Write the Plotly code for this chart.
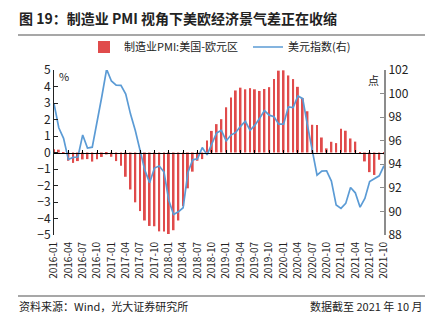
import plotly.graph_objects as go

months = [f"{y}-{m:02d}" for y in range(2016, 2022) for m in range(1, 13)][:70]

pmi_diff = [0.20, 0.17, -0.05, -0.50, -0.63, -0.52, -0.42, -0.40, -0.55, -0.41,
            -0.27, -0.12, -0.26, -0.52, -0.81, -1.47, -2.24, -3.02, -3.55, -4.12,
            -4.45, -4.47, -4.78, -4.79, -4.94, -4.71, -4.12, -3.25, -2.17, -1.16,
            -0.50, -0.40, 0.72, 1.31, 1.72, 2.02, 2.74, 3.34, 3.76, 3.93,
            3.83, 3.90, 3.83, 3.73, 3.85, 3.96, 4.45, 4.96, 4.98, 4.67,
            4.45, 3.98, 3.30, 2.50, 1.68, 1.67, 0.91, 0.25, 0.65, 0.57,
            1.44, 1.32, 0.85, 0.66, 0.03, -0.54, -1.19, -1.36, -0.44, -0.10]

dxy = [99.15, 97.10, 96.20, 94.41, 94.58, 94.62, 96.49, 95.37, 95.45, 97.45,
       99.75, 102.06, 101.07, 100.72, 100.70, 99.95, 98.26, 96.86, 95.03, 93.48,
       92.44, 93.68, 93.85, 93.34, 90.95, 89.74, 89.97, 90.31, 93.30, 94.38,
       94.47, 95.42, 94.80, 95.73, 96.66, 96.88, 95.98, 96.48, 96.70, 97.22,
       97.65, 96.88, 97.32, 97.90, 98.56, 98.17, 98.03, 97.40, 97.40, 98.87,
       98.82, 99.80, 99.57, 97.30, 95.10, 93.08, 93.42, 93.45, 92.58, 90.54,
       90.26, 90.68, 92.03, 91.58, 90.36, 91.10, 92.53, 92.80, 93.02, 93.88]

left_ticks = [-5, -4, -3, -2, -1, 0, 1, 2, 3, 4, 5]
right_ticks = [88, 90, 92, 94, 96, 98, 100, 102]

FONT = "Noto Sans CJK SC"
L, R, T, B = 54, 384, 70, 235
W, H = 433, 324


def px(x):
    return (x - L) / (R - L)


def py(y):
    return (B - y) / (B - T)


fig = go.Figure()
fig.add_trace(go.Bar(
    x=months, y=pmi_diff, name="制造业PMI:美国-欧元区",
    marker=dict(color="#E04B4B", line=dict(width=0)),
    xaxis="x", yaxis="y", legend="legend",
))
fig.add_trace(go.Scatter(
    x=months, y=dxy, name="美元指数(右)", mode="lines",
    line=dict(color="#5B9BD5", width=1.7),
    xaxis="x", yaxis="y2", legend="legend2",
))
# carrier for the category axis drawn along the zero line
fig.add_trace(go.Scatter(
    x=months, y=pmi_diff, mode="lines", line=dict(width=0, color="rgba(0,0,0,0)"),
    xaxis="x2", yaxis="y", showlegend=False, hoverinfo="skip",
))

legend_common = dict(orientation="h", xanchor="left", yanchor="middle",
                     font=dict(size=11, color="#222"), bgcolor="rgba(0,0,0,0)",
                     itemwidth=30)

fig.update_layout(
    width=W, height=H,
    margin=dict(l=L, r=W - R, t=T, b=H - B),
    paper_bgcolor="white", plot_bgcolor="white",
    font=dict(family=FONT, size=11, color="#222"),
    bargap=0.6,
    showlegend=True,
    legend=dict(x=px(84), y=py(47), **legend_common),
    legend2=dict(x=px(248), y=py(47), **legend_common),
    xaxis=dict(type="category", range=[0, len(months) - 1], tickmode="array",
               tickvals=months[::3], ticktext=months[::3], tickangle=-90,
               showline=False, ticks="", showgrid=False, zeroline=False,
               ticklabelstandoff=4,
               tickfont=dict(size=10, color="#222"), domain=[0, 1]),
    xaxis2=dict(type="category", range=[0, len(months) - 1], overlaying="x",
                anchor="free", position=0.5, tickmode="array",
                tickvals=months[3::3], showticklabels=False, ticks="inside",
                ticklen=3, tickcolor="#000", showline=True, linecolor="#000",
                linewidth=1, showgrid=False, zeroline=False),
    yaxis=dict(range=[-5, 5], tickvals=left_ticks, showline=True, linecolor="#222",
               linewidth=1, ticks="inside", ticklen=4, tickcolor="#222",
               showgrid=False, zeroline=False, tickfont=dict(size=12, color="#222")),
    yaxis2=dict(range=[88, 102], tickvals=right_ticks, overlaying="y", side="right",
                showline=True, linecolor="#8c8c8c", linewidth=2, ticks="inside",
                ticklen=4, tickcolor="#8c8c8c", showgrid=False, zeroline=False,
                tickfont=dict(size=12, color="#222")),
)

fig.add_annotation(text="<b>图 19：制造业 PMI 视角下美欧经济景气差正在收缩</b>",
                   xref="paper", yref="paper", x=px(17), y=py(18), xanchor="left",
                   yanchor="middle", showarrow=False, font=dict(size=14, color="#222"))
fig.add_annotation(text="%", xref="paper", yref="paper", x=px(57), y=py(76),
                   xanchor="left", yanchor="middle", showarrow=False,
                   font=dict(size=11, color="#222"))
fig.add_annotation(text="点", xref="paper", yref="paper", x=px(381), y=py(80),
                   xanchor="right", yanchor="middle", showarrow=False,
                   font=dict(size=11, color="#222"))
fig.add_annotation(text="资料来源：Wind，光大证券研究所", xref="paper", yref="paper",
                   x=px(17), y=py(306), xanchor="left", yanchor="middle",
                   showarrow=False, font=dict(size=11, color="#222"))
fig.add_annotation(text="数据截至 2021 年 10 月", xref="paper", yref="paper",
                   x=px(425), y=py(306), xanchor="right", yanchor="middle",
                   showarrow=False, font=dict(size=11, color="#222"))

for yy in (35, 296):
    fig.add_shape(type="line", xref="paper", yref="paper", x0=px(18), x1=px(425),
                  y0=py(yy), y1=py(yy), line=dict(color="#8a8a8a", width=1.5))

fig.write_html("out.html")
